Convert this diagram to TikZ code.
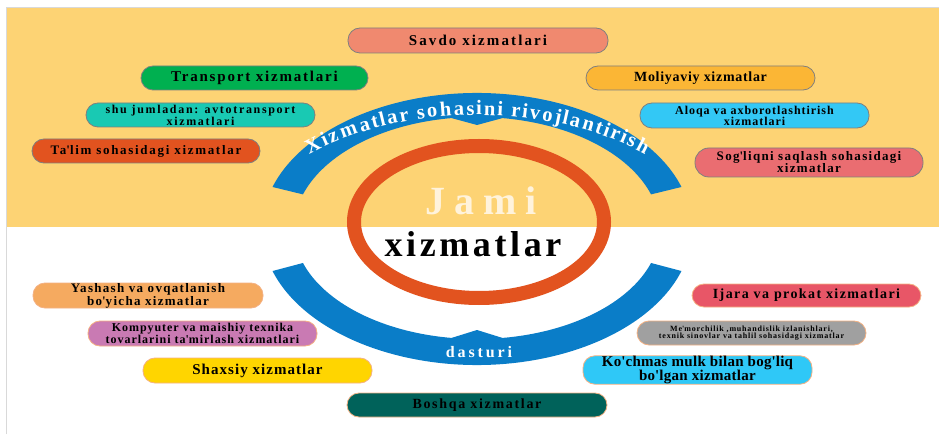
\documentclass[tikz,border=0pt]{standalone}
\usepackage{fontspec}
\setmainfont{Liberation Serif}
\usetikzlibrary{calc,decorations.text}
\definecolor{bgyellow}{HTML}{FDD374}
\definecolor{edgegrey}{HTML}{D9D9D9}
\definecolor{bandblue}{HTML}{0A7DC8}
\definecolor{ringorange}{HTML}{E2531F}
\definecolor{jamicream}{HTML}{FFF3DC}
\definecolor{pillgrey}{HTML}{7F7F7F}
\definecolor{pillpeach}{HTML}{F4B183}
\definecolor{cSavdo}{HTML}{F0896F}
\definecolor{cTransport}{HTML}{00B050}
\definecolor{cMoliya}{HTML}{FBB635}
\definecolor{cShu}{HTML}{19C9B3}
\definecolor{cAloqa}{HTML}{33C8F5}
\definecolor{cTalim}{HTML}{E2531F}
\definecolor{cSoglik}{HTML}{EA6D71}
\definecolor{cYashash}{HTML}{F5AA60}
\definecolor{cKomp}{HTML}{C97AB3}
\definecolor{cShaxsiy}{HTML}{FFD500}
\definecolor{cIjara}{HTML}{E85667}
\definecolor{cMemor}{HTML}{A0A0A0}
\definecolor{cKochmas}{HTML}{2FC8F7}
\definecolor{cBoshqa}{HTML}{00625A}
\newcommand\ap{\textquotesingle}
\newcommand\pfont[3]{\fontsize{#1}{#2}\selectfont\bfseries\addfontfeatures{LetterSpace=#3}}
\newcommand\arcfont{\fontsize{20.5}{20.5}\selectfont\bfseries}
\tikzset{
  pill/.style={draw=pillgrey, line width=0.8pt, rounded corners=12pt, inner sep=0pt,
    minimum width=229pt, minimum height=24pt, align=center, text=black},
  pillb/.style={pill, draw=pillpeach},
}
\begin{document}
\begin{tikzpicture}[x=1pt,y=1pt]
\useasboundingbox (0,0) rectangle (939,434);
\fill[white] (0,0) rectangle (939,434);
\fill[bgyellow] (7,207) rectangle (939,426);
\draw[edgegrey, line width=1.2pt] (6.5,0) -- (6.5,426.5) -- (939,426.5);

\coordinate (C) at (477,205);
\coordinate (C2) at (477,159);
% top band
\fill[bandblue] ($(C)+(162:215 and 136)$) arc[start angle=162,end angle=18,x radius=215,y radius=136]
  -- ($(C)+(18:183 and 112)$) arc[start angle=18,end angle=82,x radius=183,y radius=112]
  -- ($(C)+(0,104)$) -- ($(C)+(98:183 and 112)$) arc[start angle=98,end angle=162,x radius=183,y radius=112] -- cycle;
% bottom band
\fill[bandblue] ($(C)+(198:215 and 136)$) arc[start angle=198,end angle=342,x radius=215,y radius=136]
  -- ($(C)+(342:183 and 110)$) arc[start angle=342,end angle=278,x radius=183,y radius=110]
  -- ($(C)+(0,-101)$) -- ($(C)+(262:183 and 110)$) arc[start angle=262,end angle=198,x radius=183,y radius=110] -- cycle;
% ring
\draw[ringorange, line width=14pt] (479,212) ellipse[x radius=125, y radius=76];

% arc text
\path[decorate, decoration={text effects along path, text={Xizmatlar sohasini rivojlantirish},
  text effects/.cd, fit text to path, characters={text along path, text=white, font=\arcfont}}]
  ($(C2)+(131:256 and 160)$) arc[start angle=131, end angle=49, x radius=256, y radius=160];

\node[anchor=base, text=jamicream, font={\pfont{40}{40}{22}}] (jami) at (481,219) {Jami};
\node[anchor=base, text=black, font={\pfont{36}{36}{10}}] (xiz) at (473,177) {xizmatlar};
\node[anchor=base, text=white, font={\pfont{16}{16}{18}}] (dasturi) at (479,77) {dasturi};

% top pills
\node[pill, fill=cSavdo, minimum width=260pt, minimum height=25pt, font={\pfont{15}{15}{14}}] (savdo) at (478,393.5) {Savdo xizmatlari};
\node[pill, fill=cTransport, minimum width=227pt, font={\pfont{15}{15}{12}}] (transport) at (254.5,356) {Transport xizmatlari};
\node[pill, fill=cMoliya, font={\pfont{14}{14}{5}}] (moliya) at (700.5,356) {Moliyaviy xizmatlar};
\node[pill, fill=cShu, font={\pfont{12}{10}{14}}] (shu) at (200.5,319) {shu jumladan: avtotransport\\xizmatlari};
\node[pill, fill=cAloqa, minimum height=25pt, font={\pfont{12}{11}{8}}] (aloqa) at (754.5,318.5) {Aloqa va axborotlashtirish\\xizmatlari};
\node[pill, fill=cTalim, minimum width=228pt, font={\pfont{13}{13}{13}}] (talim) at (146,283) {Ta\ap lim sohasidagi xizmatlar};
\node[pill, fill=cSoglik, minimum width=228pt, minimum height=29pt, rounded corners=14pt, font={\pfont{13}{12}{10}}] (soglik) at (809,271.5) {Sog\ap liqni saqlash sohasidagi\\xizmatlar};

% bottom pills
\node[pillb, fill=cYashash, minimum width=230pt, minimum height=25pt, font={\pfont{13}{11}{10}}] (yashash) at (148,138.5) {Yashash va ovqatlanish\\bo\ap yicha xizmatlar};
\node[pillb, fill=cKomp, minimum height=25pt, font={\pfont{12}{10}{8}}] (komp) at (202.5,100.5) {Kompyuter va maishiy texnika\\tovarlarini ta\ap mirlash xizmatlari};
\node[pillb, fill=cShaxsiy, minimum height=25pt, font={\pfont{15}{15}{7}}] (shaxsiy) at (257.5,63.5) {Shaxsiy xizmatlar};
\node[pillb, fill=cIjara, minimum height=23pt, font={\pfont{14}{14}{10}}] (ijara) at (806.5,138.5) {Ijara va prokat xizmatlari};
\node[pillb, fill=cMemor, font={\pfont{8}{7.5}{10}}] (memor) at (751.5,101) {Me\ap morchilik ,muhandislik izlanishlari,\\texnik sinovlar va tahlil sohasidagi xizmatlar};
\node[pillb, fill=cKochmas, font={\pfont{15}{11}{2}}] (kochmas) at (697.5,64) {Ko\ap chmas mulk bilan bog\ap liq\\bo\ap lgan xizmatlar};
\node[pillb, fill=cBoshqa, minimum width=260pt, font={\pfont{14}{14}{12}}] (boshqa) at (477,29) {Boshqa xizmatlar};
\end{tikzpicture}
\end{document}
